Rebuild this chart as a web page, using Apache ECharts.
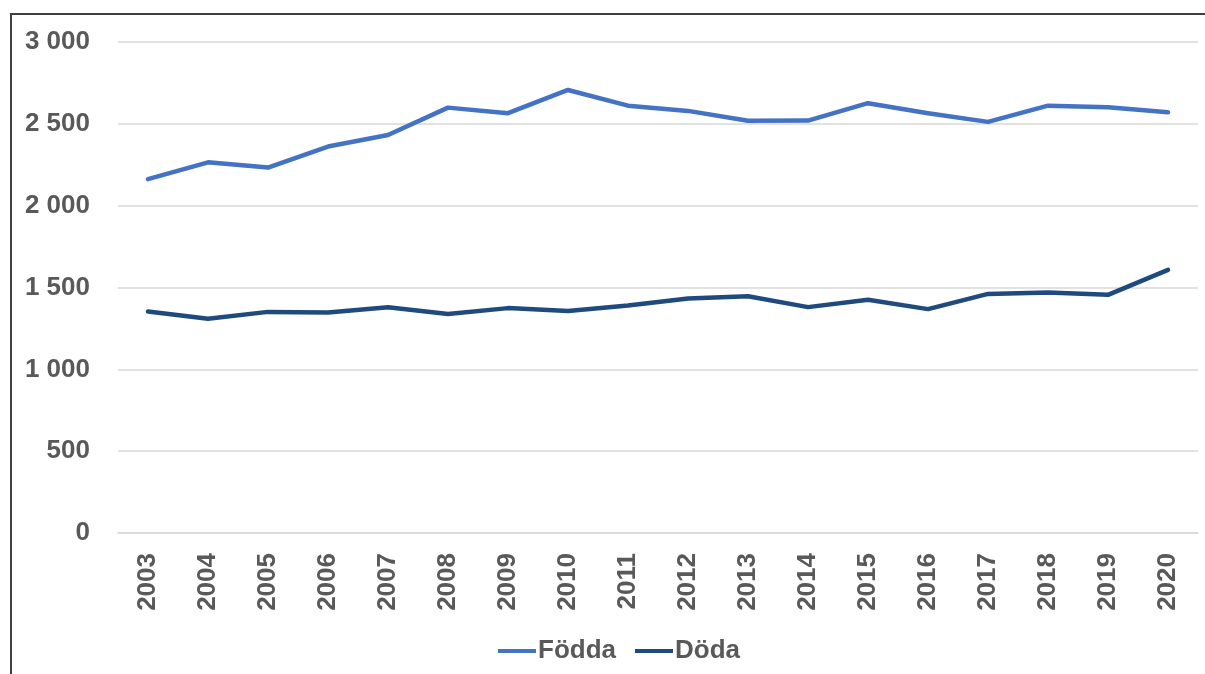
<!DOCTYPE html>
<html>
<head>
<meta charset="utf-8">
<script src="https://cdn.jsdelivr.net/npm/echarts@6/dist/echarts.min.js"></script>
<style>
  html, body { margin: 0; padding: 0; background: #fff; overflow: hidden; }
  .frame {
    position: absolute; left: 10px; top: 13px; width: 1400px; height: 900px;
    border-left: 2px solid #404040; border-top: 2px solid #404040;
  }
  .chartline { position: absolute; left: 0; top: 0; width: 1205px; height: 674px; }
</style>
</head>
<body>
<div class="frame"></div>
<div id="dom" class="chartline"></div>
<script>
// år
const years = ["2003", "2004", "2005", "2006", "2007", "2008", "2009", "2010", "2011",
  "2012", "2013", "2014", "2015", "2016", "2017", "2018", "2019", "2020"];
// Födda
const fodda = [2162, 2265, 2233, 2361, 2432, 2599, 2565, 2707, 2611,
  2579, 2519, 2520, 2626, 2565, 2512, 2611, 2601, 2571];
// Döda
const doda = [1353, 1309, 1351, 1347, 1380, 1338, 1374, 1357, 1390,
  1433, 1447, 1380, 1425, 1368, 1461, 1469, 1455, 1608];

const labelFont = {
  fontFamily: "Liberation Sans",
  fontWeight: "bold",
  fontSize: 26,
  color: "#595959"
};

let option = {
  backgroundColor: "transparent",
  animation: false,
  legend: {
    left: 493,
    top: 633,
    icon: "rect",
    itemWidth: 38,
    itemHeight: 4,
    itemGap: 19,
    textStyle: Object.assign({ padding: [0, 0, 0, -3] }, labelFont),
    data: ["Födda", "Döda"]
  },
  grid: {
    top: 42,
    left: 118,
    right: 7,
    bottom: 141,
    containLabel: false
  },
  xAxis: {
    type: "category",
    data: years,
    boundaryGap: true,
    axisTick: { show: false },
    axisLine: {
      show: true,
      lineStyle: { color: "#d9d9d9", width: 1.5 }
    },
    axisLabel: Object.assign({
      interval: 0,
      rotate: 90,
      margin: 20
    }, labelFont)
  },
  yAxis: {
    type: "value",
    min: 0,
    max: 3000,
    interval: 500,
    axisTick: { show: false },
    axisLine: { show: false },
    splitLine: {
      show: true,
      lineStyle: { color: "#d9d9d9", width: 1.5 }
    },
    axisLabel: Object.assign({
      margin: 28,
      formatter: function (v) {
        return String(v).replace(/\B(?=(\d{3})+(?!\d))/g, " ");
      }
    }, labelFont)
  },
  series: [
    {
      name: "Födda",
      type: "line",
      symbol: "none",
      data: fodda,
      color: "#4472C4",
      lineStyle: { color: "#4472C4", width: 4.5, cap: "round", join: "round" }
    },
    {
      name: "Döda",
      type: "line",
      symbol: "none",
      data: doda,
      color: "#1F4A7E",
      lineStyle: { color: "#1F4A7E", width: 4.5, cap: "round", join: "round" }
    }
  ]
};

const chart = echarts.init(document.getElementById("dom"));
chart.setOption(option);
window.addEventListener("resize", function () { chart.resize(); });
</script>
</body>
</html>
